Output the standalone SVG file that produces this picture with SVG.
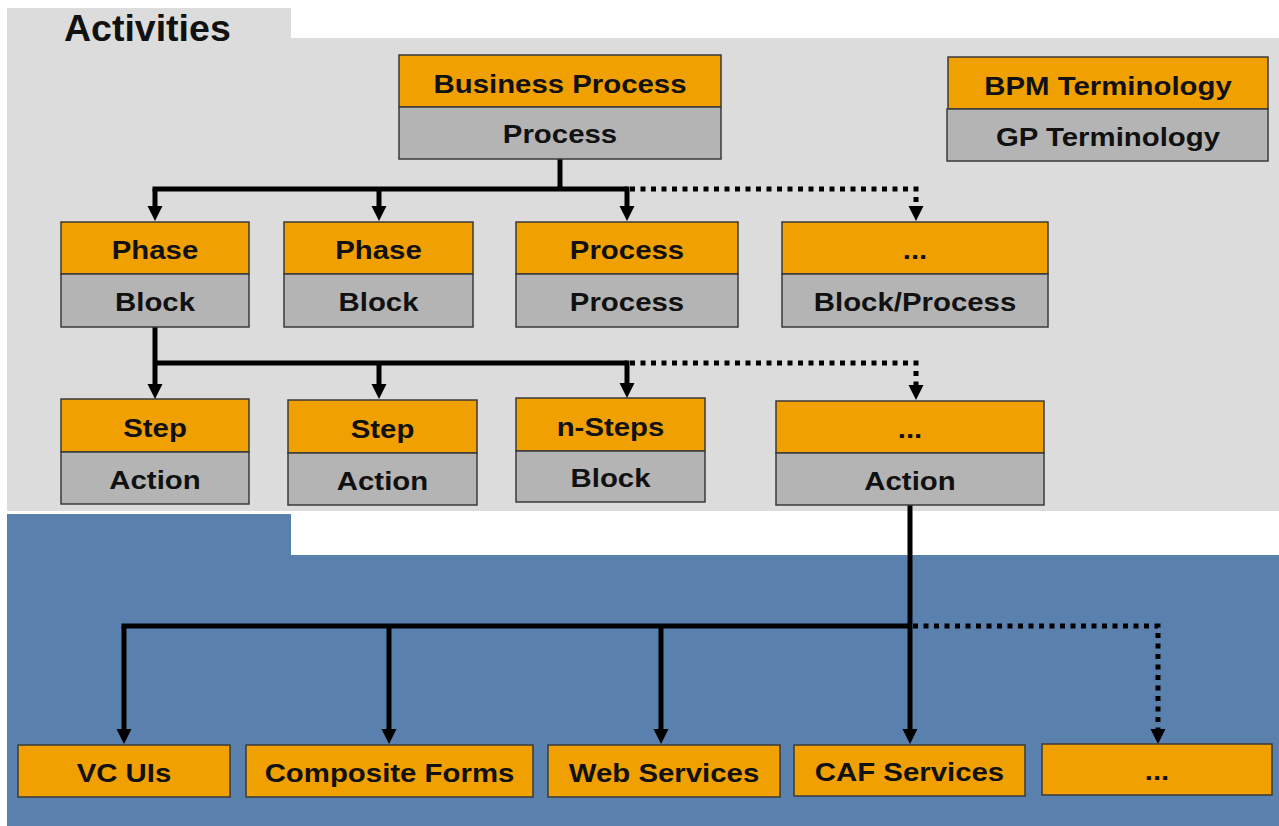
<svg xmlns="http://www.w3.org/2000/svg" width="1279" height="826" viewBox="0 0 1279 826">
  <style>
    .bg-gray { fill: #dcdcdc; }
    .bg-blue { fill: #5a81ae; }
    .top { fill: #f0a000; stroke: #3a3a3a; stroke-width: 1.5; }
    .bot { fill: #b4b4b4; stroke: #3a3a3a; stroke-width: 1.5; }
    .lbl { font-family: "Liberation Sans", Arial, sans-serif; font-weight: bold; font-size: 26px; fill: #111; text-anchor: middle; }
    .title { font-family: "Liberation Sans", Arial, sans-serif; font-weight: bold; font-size: 37.5px; fill: #111; }
    .solid { fill: none; stroke: #000; stroke-width: 5; }
    .dot { fill: none; stroke: #000; stroke-width: 5; stroke-dasharray: 5 5.5; }
  </style>
  <defs>
    <marker id="arrow" markerUnits="userSpaceOnUse" markerWidth="16" markerHeight="16" refX="0" refY="7.5" orient="auto">
      <path d="M0,0 L15,7.5 L0,15 Z" fill="#000"/>
    </marker>
  </defs>

  <!-- page background -->
  <rect width="1279" height="826" fill="#ffffff"/>
  <g id="activities-area">
    <rect class="bg-gray" x="7" y="8" width="284" height="31"/>
    <rect class="bg-gray" x="7" y="38" width="1272" height="473"/>
    <text class="title" x="64" y="41">Activities</text>
  </g>
  <g id="services-area">
    <rect class="bg-blue" x="7" y="514" width="284" height="42"/>
    <rect class="bg-blue" x="7" y="555" width="1272" height="271"/>
  </g>

  <!-- connectors -->
  <g id="connectors">
    <!-- business process to phases -->
    <path class="solid" d="M560,159 V189"/>
    <path class="solid" d="M152.5,189 H627"/>
    <path class="solid" d="M155,189 V206" marker-end="url(#arrow)"/>
    <path class="solid" d="M379,189 V206" marker-end="url(#arrow)"/>
    <path class="solid" d="M627,186.5 V206" marker-end="url(#arrow)"/>
    <path class="dot" d="M630,189 H916 V206" marker-end="url(#arrow)"/>
    <!-- phase to steps -->
    <path class="solid" d="M155,327 V384" marker-end="url(#arrow)"/>
    <path class="solid" d="M155,363 H627"/>
    <path class="solid" d="M379,363 V384" marker-end="url(#arrow)"/>
    <path class="solid" d="M627,360.5 V383" marker-end="url(#arrow)"/>
    <path class="dot" d="M630,363 H916 V385" marker-end="url(#arrow)"/>
    <!-- action to services -->
    <path class="solid" d="M910,505 V729" marker-end="url(#arrow)"/>
    <path class="solid" d="M121.5,626 H910"/>
    <path class="solid" d="M124,626 V729" marker-end="url(#arrow)"/>
    <path class="solid" d="M389,626 V729" marker-end="url(#arrow)"/>
    <path class="solid" d="M661,626 V729" marker-end="url(#arrow)"/>
    <path class="dot" d="M913,626 H1158 V729" marker-end="url(#arrow)"/>
  </g>

  <!-- legend -->
  <g id="legend">
    <rect class="top" x="948" y="57" width="320" height="52"/>
    <rect class="bot" x="947" y="109" width="321" height="52"/>
    <text class="lbl" transform="translate(1108 95) scale(1.13 1)">BPM Terminology</text>
    <text class="lbl" transform="translate(1108 146) scale(1.13 1)">GP Terminology</text>
  </g>

  <!-- level 0 -->
  <g id="business-process">
    <rect class="top" x="399" y="55" width="322" height="52"/>
    <rect class="bot" x="399" y="107" width="322" height="52"/>
    <text class="lbl" transform="translate(560 93) scale(1.13 1)">Business Process</text>
    <text class="lbl" transform="translate(560 143) scale(1.13 1)">Process</text>
  </g>

  <!-- level 1 -->
  <g id="phase-1">
    <rect class="top" x="61" y="222" width="188" height="52"/>
    <rect class="bot" x="61" y="274" width="188" height="53"/>
    <text class="lbl" transform="translate(155 259) scale(1.13 1)">Phase</text>
    <text class="lbl" transform="translate(155 311) scale(1.13 1)">Block</text>
  </g>
  <g id="phase-2">
    <rect class="top" x="284" y="222" width="189" height="52"/>
    <rect class="bot" x="284" y="274" width="189" height="53"/>
    <text class="lbl" transform="translate(378.5 259) scale(1.13 1)">Phase</text>
    <text class="lbl" transform="translate(378.5 311) scale(1.13 1)">Block</text>
  </g>
  <g id="sub-process">
    <rect class="top" x="516" y="222" width="222" height="52"/>
    <rect class="bot" x="516" y="274" width="222" height="53"/>
    <text class="lbl" transform="translate(627 259) scale(1.13 1)">Process</text>
    <text class="lbl" transform="translate(627 311) scale(1.13 1)">Process</text>
  </g>
  <g id="more-level-1">
    <rect class="top" x="782" y="222" width="266" height="52"/>
    <rect class="bot" x="782" y="274" width="266" height="53"/>
    <text class="lbl" transform="translate(915 259) scale(1.13 1)">...</text>
    <text class="lbl" transform="translate(915 311) scale(1.13 1)">Block/Process</text>
  </g>

  <!-- level 2 -->
  <g id="step-1">
    <rect class="top" x="61" y="399" width="188" height="53"/>
    <rect class="bot" x="61" y="452" width="188" height="52"/>
    <text class="lbl" transform="translate(155 437) scale(1.13 1)">Step</text>
    <text class="lbl" transform="translate(155 489) scale(1.13 1)">Action</text>
  </g>
  <g id="step-2">
    <rect class="top" x="288" y="400" width="189" height="53"/>
    <rect class="bot" x="288" y="453" width="189" height="52"/>
    <text class="lbl" transform="translate(382.5 438) scale(1.13 1)">Step</text>
    <text class="lbl" transform="translate(382.5 490) scale(1.13 1)">Action</text>
  </g>
  <g id="n-steps">
    <rect class="top" x="516" y="398" width="189" height="53"/>
    <rect class="bot" x="516" y="451" width="189" height="51"/>
    <text class="lbl" transform="translate(610.5 436) scale(1.13 1)">n-Steps</text>
    <text class="lbl" transform="translate(610.5 487) scale(1.13 1)">Block</text>
  </g>
  <g id="more-level-2">
    <rect class="top" x="776" y="401" width="268" height="52"/>
    <rect class="bot" x="776" y="453" width="268" height="52"/>
    <text class="lbl" transform="translate(910 438) scale(1.13 1)">...</text>
    <text class="lbl" transform="translate(910 490) scale(1.13 1)">Action</text>
  </g>

  <!-- services -->
  <g id="vc-uis">
    <rect class="top" x="18" y="745" width="212" height="52"/>
    <text class="lbl" transform="translate(124 782) scale(1.13 1)">VC UIs</text>
  </g>
  <g id="composite-forms">
    <rect class="top" x="246" y="745" width="287" height="52"/>
    <text class="lbl" transform="translate(389.5 782) scale(1.13 1)">Composite Forms</text>
  </g>
  <g id="web-services">
    <rect class="top" x="548" y="745" width="232" height="52"/>
    <text class="lbl" transform="translate(664 782) scale(1.13 1)">Web Services</text>
  </g>
  <g id="caf-services">
    <rect class="top" x="794" y="745" width="231" height="51"/>
    <text class="lbl" transform="translate(909.5 781) scale(1.13 1)">CAF Services</text>
  </g>
  <g id="more-services">
    <rect class="top" x="1042" y="744" width="230" height="51"/>
    <text class="lbl" transform="translate(1157 780) scale(1.13 1)">...</text>
  </g>
</svg>
